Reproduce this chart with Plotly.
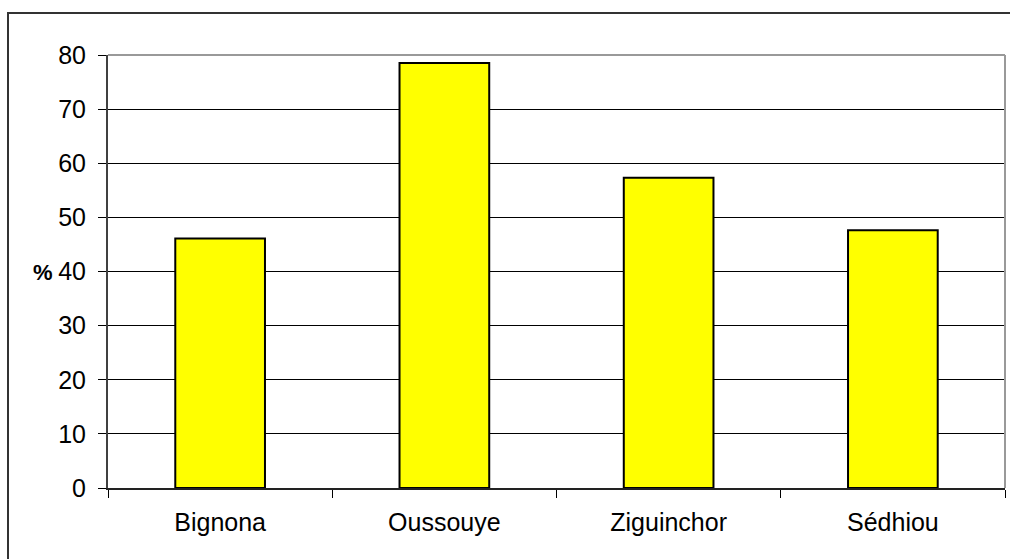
import plotly.graph_objects as go

categories = ["Bignona", "Oussouye", "Ziguinchor", "Sédhiou"]
values = [46.1, 78.5, 57.3, 47.6]
y_ticks = [0, 10, 20, 30, 40, 50, 60, 70, 80]

fig = go.Figure()
fig.add_trace(go.Bar(
    x=categories, y=values,
    marker=dict(color="#FFFF00", line=dict(color="#000000", width=2)),
    width=0.4, hoverinfo="skip",
))

L, R, T, B = 108, 5, 55, 71
W, H = 1010, 559
pw, ph = W - L - R, H - T - B

def px(x):
    return (x - L) / pw

def py(y):
    return (H - B - y) / ph

FS = 25
fig.update_layout(
    width=W, height=H,
    margin=dict(l=L, r=R, t=T, b=B),
    paper_bgcolor="white", plot_bgcolor="white",
    font=dict(family="Liberation Sans, Arial, sans-serif", size=FS, color="#000"),
    showlegend=False,
    xaxis=dict(
        showline=True, linecolor="#222", linewidth=2,
        ticks="outside", tickson="boundaries", ticklen=8, tickcolor="#000", tickwidth=1,
        tickfont=dict(size=FS), showgrid=False, ticklabelstandoff=11,
    ),
    yaxis=dict(
        range=[0, 80], tickvals=y_ticks,
        showline=True, linecolor="#404040", linewidth=2,
        ticks="outside", ticklen=8, tickcolor="#000",
        showgrid=True, gridcolor="#000", gridwidth=1,
        zeroline=False, tickfont=dict(size=FS), ticklabelstandoff=7,
    ),
    shapes=[
        dict(type="rect", xref="paper", yref="paper",
             x0=px(8), x1=px(1030), y0=py(13), y1=py(600),
             line=dict(color="#333", width=2), fillcolor="rgba(0,0,0,0)"),
        dict(type="line", xref="paper", yref="paper", x0=0, x1=1, y0=1, y1=1,
             line=dict(color="#999", width=2)),
        dict(type="line", xref="paper", yref="paper", x0=1, x1=1, y0=0, y1=1,
             line=dict(color="#999", width=2)),
    ],
    annotations=[
        dict(text="<b>%</b>", xref="paper", yref="paper", x=px(43), y=py(272),
             xanchor="center", yanchor="middle",
             showarrow=False, font=dict(size=22)),
    ],
)

fig.write_html("out.html", config={"displayModeBar": False},
               post_script="document.body.style.margin='0';document.body.style.overflow='hidden';")
